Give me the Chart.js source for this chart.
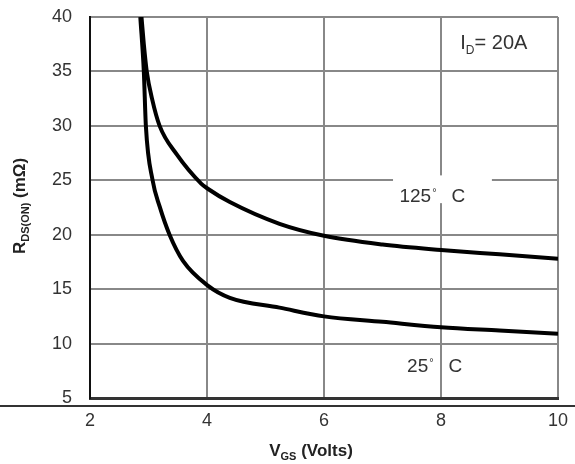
<!DOCTYPE html>
<html>
<head>
<meta charset="utf-8">
<script src="https://cdn.jsdelivr.net/npm/chart.js@4.4.0/dist/chart.umd.min.js"></script>
<style>
  html, body { margin: 0; padding: 0; background: #fff; }
  #wrap { width: 575px; height: 464px; }
</style>
</head>
<body>
<div id="wrap"><canvas id="rdsChart" width="575" height="464"></canvas></div>
<script>
// values
const vgs125 = [2.88, 2.92, 2.97, 3.06, 3.19, 3.48, 3.9, 4.02, 4.39, 5.24, 6.0, 7.0, 8.0, 9.0, 10.0];
const rds125 = [40.0, 37.5, 35.0, 32.5, 30.0, 27.4, 24.7, 24.2, 23.0, 21.0, 19.9, 19.1, 18.6, 18.2, 17.8];
const vgs25 = [2.86, 2.92, 2.955, 3.07, 3.19, 3.36, 3.59, 4.02, 4.39, 5.24, 6.0, 7.0, 8.0, 9.0, 10.0];
const rds25 = [40.0, 35.0, 30.0, 25.0, 22.6, 20.0, 17.6, 15.3, 14.2, 13.3, 12.5, 12.0, 11.5, 11.2, 10.9];
const xTicks = [2, 4, 6, 8, 10];
const yTicks = [5, 10, 15, 20, 25, 30, 35, 40];

const FONT = "Arial, 'Liberation Sans'";

function toPoints(xs, ys) {
    return xs.map((x, i) => ({ x: x, y: ys[i] }));
}

// text with subscript / superscript parts: [[text, "sub" | "sup" | undefined], ...]
function drawParts(ctx, parts, x, y, size, bold) {
    const w = bold ? "bold " : "";
    let cx = x;
    parts.forEach(p => {
        if (p[1] === "sub") {
            ctx.font = w + Math.round(size * 0.62) + "px " + FONT;
            ctx.fillText(p[0], cx, y + size * 0.24);
        } else if (p[1] === "sup") {
            ctx.font = w + Math.round(size * 0.6) + "px " + FONT;
            ctx.fillText(p[0], cx + 1, y - size * 0.32);
        } else {
            ctx.font = w + size + "px " + FONT;
            ctx.fillText(p[0], cx, y);
        }
        cx += ctx.measureText(p[0]).width;
    });
    return cx - x;
}

function partsWidth(ctx, parts, size, bold) {
    const w = bold ? "bold " : "";
    let total = 0;
    parts.forEach(p => {
        ctx.font = w + (p[1] ? Math.round(size * 0.62) : size) + "px " + FONT;
        total += ctx.measureText(p[0]).width;
    });
    return total;
}

const labelPlugin = {
    id: "labels",
    beforeDatasetsDraw(chart) {
        const ctx = chart.ctx;
        const sx = chart.scales.x, sy = chart.scales.y;
        // white patch behind the 125 C label
        ctx.save();
        ctx.fillStyle = "#fff";
        const l = sx.getPixelForValue(7.18), r = sx.getPixelForValue(8.87);
        const t = sy.getPixelForValue(25.45), b = sy.getPixelForValue(22.9);
        ctx.fillRect(l, t, r - l, b - t);
        ctx.restore();
    },
    afterDraw(chart) {
        const ctx = chart.ctx;
        const sx = chart.scales.x, sy = chart.scales.y;
        const area = chart.chartArea;
        ctx.save();
        ctx.fillStyle = "#333";
        ctx.textBaseline = "alphabetic";
        ctx.textAlign = "left";

        drawParts(ctx, [["I"], ["D", "sub"], ["= 20A"]], sx.getPixelForValue(8.33), sy.getPixelForValue(37.7) + 7, 20, false);
        drawParts(ctx, [["125"], ["\u00b0", "sup"], ["   C"]], sx.getPixelForValue(7.29), sy.getPixelForValue(23.65) + 7, 19, false);
        drawParts(ctx, [["25"], ["\u00b0", "sup"], ["   C"]], sx.getPixelForValue(7.42), sy.getPixelForValue(8.05) + 7, 19, false);

        // axis titles
        ctx.fillStyle = "#222";
        const xt = [["V"], ["GS", "sub"], [" (Volts)"]];
        const xw = partsWidth(ctx, xt, 17, true);
        drawParts(ctx, xt, 311 - xw / 2, 456, 17, true);

        const yt = [["R"], ["DS(ON)", "sub"], [" (m\u03a9)"]];
        const yw = partsWidth(ctx, yt, 17, true);
        ctx.translate(25, 206);
        ctx.rotate(-Math.PI / 2);
        drawParts(ctx, yt, -yw / 2, 0, 17, true);
        ctx.restore();

        // frame line under the plot
        ctx.save();
        ctx.strokeStyle = "#333";
        ctx.lineWidth = 2;
        ctx.beginPath();
        ctx.moveTo(0, area.bottom + 8);
        ctx.lineTo(575, area.bottom + 8);
        ctx.stroke();
        ctx.restore();
    }
};

const ctx = document.getElementById("rdsChart").getContext("2d");
new Chart(ctx, {
    type: "scatter",
    data: {
        datasets: [
            {
                label: "125 C",
                data: toPoints(vgs125, rds125),
                showLine: true,
                borderColor: "#000",
                borderWidth: 4,
                pointRadius: 0,
                cubicInterpolationMode: "monotone"
            },
            {
                label: "25 C",
                data: toPoints(vgs25, rds25),
                showLine: true,
                borderColor: "#000",
                borderWidth: 4,
                pointRadius: 0,
                cubicInterpolationMode: "monotone"
            }
        ]
    },
    plugins: [labelPlugin],
    options: {
        responsive: false,
        animation: false,
        layout: { padding: { top: 17, right: 17, left: 0, bottom: 0 } },
        plugins: { legend: { display: false }, tooltip: { enabled: false } },
        scales: {
            x: {
                type: "linear",
                min: 2,
                max: 10,
                afterBuildTicks: s => { s.ticks = xTicks.map(v => ({ value: v })); },
                afterFit: s => { s.height = 66; s.paddingLeft = 0; s.paddingRight = 0; },
                grid: { color: "#888", lineWidth: 2, drawTicks: false },
                border: { color: "#333", width: 3 },
                ticks: { color: "#333", font: { size: 18, family: FONT }, padding: 12 }
            },
            y: {
                min: 5,
                max: 40,
                afterBuildTicks: s => { s.ticks = yTicks.map(v => ({ value: v })); },
                afterFit: s => { s.width = 90; s.paddingTop = 0; s.paddingBottom = 0; },
                grid: { color: "#888", lineWidth: 2, drawTicks: false },
                border: { color: "#111", width: 2 },
                ticks: { color: "#333", font: { size: 18, family: FONT }, padding: 18 }
            }
        }
    }
});
</script>
</body>
</html>
